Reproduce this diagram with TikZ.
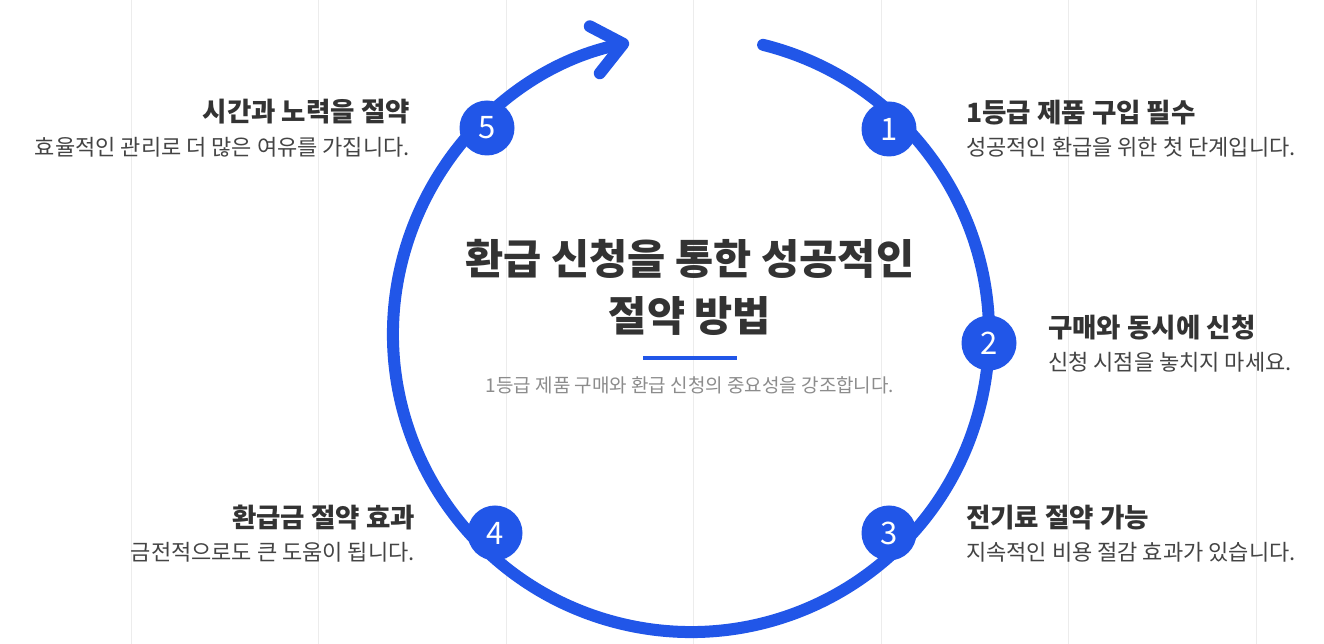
\documentclass[tikz,border=0pt]{standalone}
\usepackage{fontspec}
\setmainfont{Noto Sans CJK KR}
\usetikzlibrary{arrows.meta, positioning}

\definecolor{cycleblue}{RGB}{33,86,232}
\definecolor{darktext}{RGB}{51,51,51}
\definecolor{bodytext}{RGB}{68,68,68}
\definecolor{subtext}{RGB}{140,140,140}
\definecolor{gridgray}{RGB}{236,236,236}

\begin{document}
\begin{tikzpicture}[
		x=1pt, y=1pt,
		% Numbered markers on the cycle
		stepdot/.style={circle, fill=cycleblue, minimum size=55pt, inner sep=0pt,
			text=white, font=\fontsize{31}{31}\selectfont},
		% Step texts
		steptitle/.style={font=\bfseries\fontsize{26.5}{30}\selectfont, text=darktext, inner sep=0pt},
		stepdesc/.style={font=\fontsize{22}{26}\selectfont, text=bodytext, inner sep=0pt},
		% Title & subtitle
		mainTitle/.style={font=\bfseries\fontsize{41.5}{57}\selectfont, text=darktext, align=center, inner sep=0pt},
		subTitle/.style={font=\fontsize{19}{22}\selectfont, text=subtext, inner sep=0pt},
		gridline/.style={draw=gridgray, line width=1pt},
		cycle/.style={draw=cycleblue, line width=12pt, line cap=round}
	]

	% background and faint vertical guides
	\path[use as bounding box, fill=white] (0,0) rectangle (1324,644);
	\foreach \gx in {131,318.5,506,693.5,881,1068.5,1256}
		\draw[gridline] (\gx,0) -- (\gx,644);

	% ==============================================================================
	% The cycle
	% ==============================================================================
	\coordinate (hub) at (691,310);
	\draw[cycle, -{Straight Barb[length=29pt, width=48pt, round]}]
		(hub) ++(76:298pt) arc[start angle=76, end angle=-258, radius=298pt];

	\node[stepdot] (s1) at (889,515) {1};
	\node[stepdot] (s2) at (989,301) {2};
	\node[stepdot] (s3) at (889,111) {3};
	\node[stepdot] (s4) at (495,111) {4};
	\node[stepdot] (s5) at (487,516) {5};

	% ==============================================================================
	% Centre text
	% ==============================================================================
	\node[mainTitle] (title) at (690,357) {환급 신청을 통한 성공적인\\절약 방법};
	\draw[cycleblue, line width=4.5pt] (643,286) -- (737,286);
	\node[subTitle] (sub) at (690,259) {1등급 제품 구매와 환급 신청의 중요성을 강조합니다.};

	% ==============================================================================
	% Step texts
	% ==============================================================================
	% Step 1
	\node[steptitle, anchor=west] (t1) at (966,531) {1등급 제품 구입 필수};
	\node[stepdesc, below=34pt of t1.west, anchor=west] (d1) {성공적인 환급을 위한 첫 단계입니다.};
	% Step 2
	\node[steptitle, anchor=west] (t2) at (1048,316) {구매와 동시에 신청};
	\node[stepdesc, below=34pt of t2.west, anchor=west] (d2) {신청 시점을 놓치지 마세요.};
	% Step 3
	\node[steptitle, anchor=west] (t3) at (966,126) {전기료 절약 가능};
	\node[stepdesc, below=34pt of t3.west, anchor=west] (d3) {지속적인 비용 절감 효과가 있습니다.};
	% Step 4
	\node[steptitle, anchor=east] (t4) at (415,126) {환급금 절약 효과};
	\node[stepdesc, below=34pt of t4.east, anchor=east] (d4) {금전적으로도 큰 도움이 됩니다.};
	% Step 5
	\node[steptitle, anchor=east] (t5) at (410,532) {시간과 노력을 절약};
	\node[stepdesc, below=35pt of t5.east, anchor=east] (d5) {효율적인 관리로 더 많은 여유를 가집니다.};
\end{tikzpicture}
\end{document}
